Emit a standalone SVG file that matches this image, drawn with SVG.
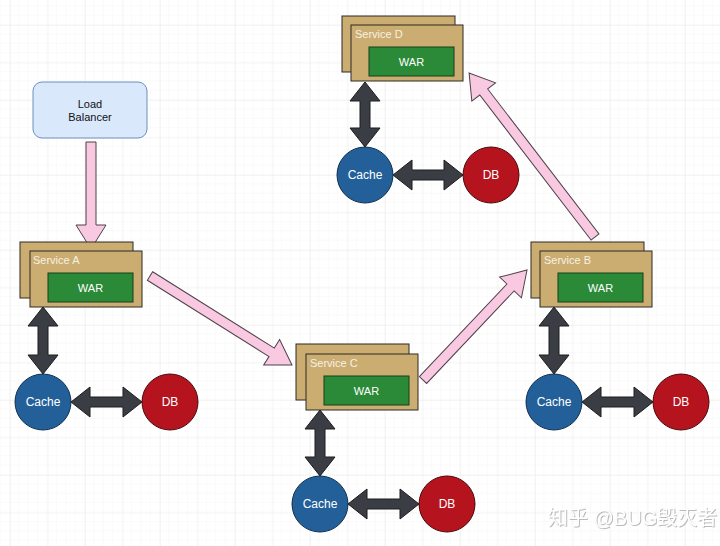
<svg xmlns="http://www.w3.org/2000/svg" width="720" height="546" viewBox="0 0 720 546">
<defs>
<pattern id="minor" x="10" y="25" width="9.375" height="9.375" patternUnits="userSpaceOnUse">
<path d="M9.375 0V9.375M0 9.375H9.375" fill="none" stroke="#f5f5f5" stroke-width="1"/>
</pattern>
<pattern id="major" x="10" y="25" width="37.5" height="37.5" patternUnits="userSpaceOnUse">
<path d="M0 0V37.5M0 0H37.5" fill="none" stroke="#ebebeb" stroke-width="1"/>
</pattern>
<filter id="shadow" x="-10%" y="-30%" width="120%" height="160%">
<feDropShadow dx="0.8" dy="0.8" stdDeviation="0.6" flood-color="#a0a0a0" flood-opacity="0.9"/>
</filter>
</defs>
<style>
.back,.front{fill:#cbad72;stroke:#2e2a22;stroke-width:1}
.war{fill:#2a8a38;stroke:#173f1c;stroke-width:1}
.stitle{font-family:"Liberation Sans",Arial,sans-serif;font-size:11px;fill:#f6f1e4}
.wtext{font-family:"Liberation Sans",Arial,sans-serif;font-size:11px;fill:#ffffff;text-anchor:middle}
.cache{fill:#23609a;stroke:#0f2f50;stroke-width:1}
.db{fill:#b5131d;stroke:#4a0a0c;stroke-width:1}
.ctext{font-family:"Liberation Sans",Arial,sans-serif;font-size:12px;fill:#ffffff;text-anchor:middle}
.dark{fill:#3a3e44;stroke:#1c1c1c;stroke-width:1}
.pink{fill:#f9c8e1;stroke:#4d4249;stroke-width:1}
.lb{fill:#dae8fc;stroke:#6c8ebf;stroke-width:1}
.lbt{font-family:"Liberation Sans",Arial,sans-serif;font-size:11px;fill:#111111;text-anchor:middle}
.wm{font-family:"Liberation Sans","Noto Sans CJK SC",sans-serif;font-size:20px;fill:#ffffff}
</style>
<rect width="720" height="546" fill="#ffffff"/>
<rect width="720" height="546" fill="url(#minor)"/>
<rect width="720" height="546" fill="url(#major)"/>

<g id="connectors">
<polygon class="pink" transform="translate(91,142) rotate(90)" points="0,-5 83,-5 83,-15 107,0 83,15 83,5 0,5"/>
<polygon class="pink" transform="translate(150,276) rotate(32.1)" points="0,-5 143.6,-5 143.6,-15 167.6,0 143.6,15 143.6,5 0,5"/>
<polygon class="pink" transform="translate(423,380) rotate(-46.6)" points="0,-5 127.4,-5 127.4,-15 151.4,0 127.4,15 127.4,5 0,5"/>
<polygon class="pink" transform="translate(595,237) rotate(-127.5)" points="0,-5 182.8,-5 182.8,-15 206.8,0 182.8,15 182.8,5 0,5"/>

<polygon class="dark" transform="translate(43,307) rotate(90)" points="0,0 19,-15 19,-5 48,-5 48,-15 67,0 48,15 48,5 19,5 19,15"/>
<polygon class="dark" transform="translate(71,402)" points="0,0 19,-15 19,-5 52,-5 52,-15 71,0 52,15 52,5 19,5 19,15"/>
<polygon class="dark" transform="translate(365,82) rotate(90)" points="0,0 19,-15 19,-5 46,-5 46,-15 65,0 46,15 46,5 19,5 19,15"/>
<polygon class="dark" transform="translate(393,175)" points="0,0 19,-15 19,-5 51,-5 51,-15 70,0 51,15 51,5 19,5 19,15"/>
<polygon class="dark" transform="translate(320,410) rotate(90)" points="0,0 19,-15 19,-5 47,-5 47,-15 66,0 47,15 47,5 19,5 19,15"/>
<polygon class="dark" transform="translate(348,504)" points="0,0 19,-15 19,-5 52,-5 52,-15 71,0 52,15 52,5 19,5 19,15"/>
<polygon class="dark" transform="translate(554,307) rotate(90)" points="0,0 19,-15 19,-5 48,-5 48,-15 67,0 48,15 48,5 19,5 19,15"/>
<polygon class="dark" transform="translate(582,402)" points="0,0 19,-15 19,-5 52,-5 52,-15 71,0 52,15 52,5 19,5 19,15"/>
</g>

<g id="load-balancer">
<rect class="lb" x="33" y="82" width="114" height="56" rx="9"/>
<text class="lbt" x="90" y="108">Load</text>
<text class="lbt" x="90" y="121">Balancer</text>
</g>

<g id="service-a">
<rect class="back" x="20" y="242" width="113" height="56"/>
<rect class="front" x="30" y="251" width="112" height="56"/>
<text class="stitle" x="33" y="264">Service A</text>
<rect class="war" x="48" y="273" width="85" height="29"/>
<text class="wtext" x="90.5" y="291.5">WAR</text>
</g>

<g id="service-d">
<rect class="back" x="342" y="16" width="113" height="56"/>
<rect class="front" x="351" y="25" width="112" height="56"/>
<text class="stitle" x="355" y="38">Service D</text>
<rect class="war" x="369" y="47" width="85" height="29"/>
<text class="wtext" x="411.5" y="65.5">WAR</text>
</g>

<g id="service-c">
<rect class="back" x="296" y="344" width="113" height="56"/>
<rect class="front" x="306" y="354" width="112" height="56"/>
<text class="stitle" x="310" y="367">Service C</text>
<rect class="war" x="324" y="376" width="85" height="29"/>
<text class="wtext" x="366.5" y="394.5">WAR</text>
</g>

<g id="service-b">
<rect class="back" x="531" y="242" width="113" height="56"/>
<rect class="front" x="540" y="251" width="112" height="56"/>
<text class="stitle" x="544" y="264">Service B</text>
<rect class="war" x="558" y="273" width="85" height="29"/>
<text class="wtext" x="600.5" y="291.5">WAR</text>
</g>

<g id="cache-a"><circle class="cache" cx="43" cy="402" r="28"/><text class="ctext" x="43" y="406">Cache</text></g>
<g id="db-a"><circle class="db" cx="170" cy="402" r="28"/><text class="ctext" x="170" y="406">DB</text></g>
<g id="cache-d"><circle class="cache" cx="365" cy="175" r="28"/><text class="ctext" x="365" y="179">Cache</text></g>
<g id="db-d"><circle class="db" cx="491" cy="175" r="28"/><text class="ctext" x="491" y="179">DB</text></g>
<g id="cache-c"><circle class="cache" cx="320" cy="504" r="28"/><text class="ctext" x="320" y="508">Cache</text></g>
<g id="db-c"><circle class="db" cx="447" cy="504" r="28"/><text class="ctext" x="447" y="508">DB</text></g>
<g id="cache-b"><circle class="cache" cx="554" cy="402" r="28"/><text class="ctext" x="554" y="406">Cache</text></g>
<g id="db-b"><circle class="db" cx="681" cy="402" r="28"/><text class="ctext" x="681" y="406">DB</text></g>

<text class="wm" x="548" y="525" filter="url(#shadow)">知乎 @BUG毁灭者</text>
</svg>
